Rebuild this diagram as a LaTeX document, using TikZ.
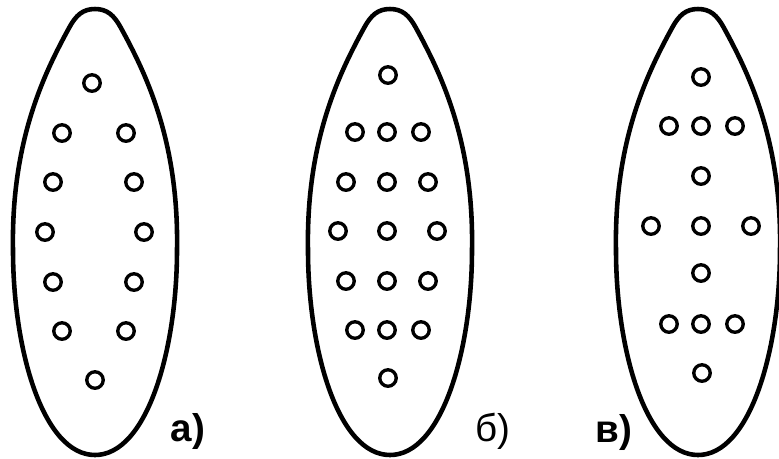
\documentclass[tikz,border=0pt]{standalone}
\usepackage{fontspec}
\setsansfont{Liberation Sans}
\usepackage{tikz}
\tikzset{
  leafline/.style={line width=2.6pt, line join=round},
  hole/.style={draw, circle, line width=1.9pt, minimum size=0.33cm, inner sep=0pt},
  lbl/.style={font=\sffamily\fontsize{22}{22}\selectfont, inner sep=0pt},
  lblb/.style={lbl, font=\sffamily\bfseries\fontsize{22}{22}\selectfont},
  leaf/.pic={
    \draw[leafline] (0,9) .. controls (12,9) and (19,15) .. (26,28)
      .. controls (50,72) and (84,140) .. (82,250)
      .. controls (82,350) and (52,455) .. (0,455)
      .. controls (-52,455) and (-82,350) .. (-82,250)
      .. controls (-84,140) and (-50,72) .. (-26,28)
      .. controls (-19,15) and (-12,9) .. cycle;
  },
}

\begin{document}
\begin{tikzpicture}[x=0.02cm, y=-0.02cm]
  \useasboundingbox (0,0) rectangle (779,458);
  % а) - two rows along the edge
  \path (95,0) pic {leaf};
  \foreach \n/\x/\y in {1/92/83, 2/62/133, 3/126/133, 4/53/182, 5/134/182,
      6/45/232, 7/144/232, 8/53/282, 9/134/282, 10/62/331, 11/126/331, 12/95/380}
    \node[hole] (a\n) at (\x,\y) {};
  \node[lblb] (la) at (188,431) {а)};
  % б) - three columns
  \path (390,0) pic {leaf};
  \foreach \n/\x/\y in {1/388/75, 2/355/132, 3/387/132, 4/421/132,
      5/346/182, 6/387/182, 7/428/182, 8/338/231, 9/387/231, 10/437/231,
      11/346/281, 12/387/281, 13/428/281, 14/355/330, 15/387/330, 16/421/330,
      17/388/378}
    \node[hole] (b\n) at (\x,\y) {};
  \node[lbl] (lb) at (493,431) {б)};
  % в) - cross
  \path (698,0) pic {leaf};
  \foreach \n/\x/\y in {1/701/77, 2/669/126, 3/701/126, 4/735/126, 5/701/176,
      6/651/226, 7/701/226, 8/751/226, 9/701/273, 10/669/324, 11/701/324,
      12/735/324, 13/702/373}
    \node[hole] (c\n) at (\x,\y) {};
  \node[lblb] (lc) at (614,432) {в)};
\end{tikzpicture}
\end{document}
